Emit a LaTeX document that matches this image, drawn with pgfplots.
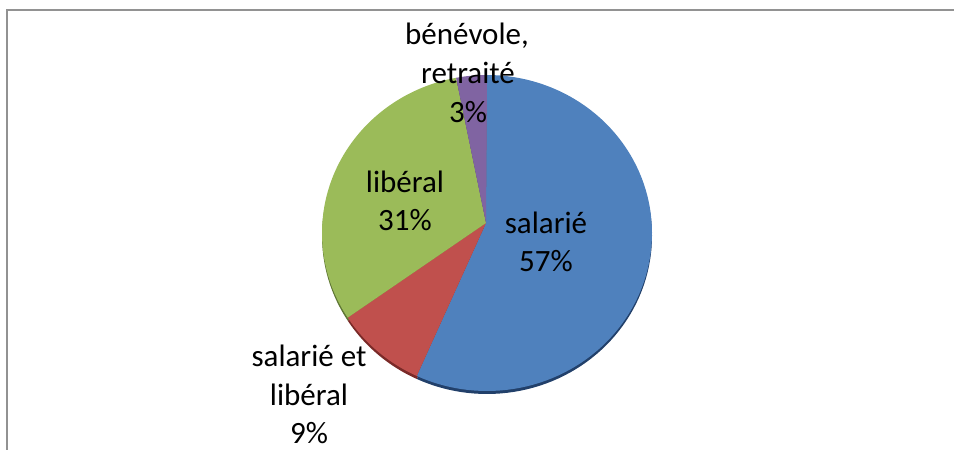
\documentclass[border=0pt]{standalone}
\usepackage{pgfplots}
\pgfplotsset{compat=1.18}
\usepackage{fontspec}
\setmainfont{Carlito}
\definecolor{pieblue}{HTML}{4F81BD}
\definecolor{piered}{HTML}{C0504D}
\definecolor{piegreen}{HTML}{9BBB59}
\definecolor{piepurple}{HTML}{8064A2}
\definecolor{rimblue}{HTML}{22406A}
\definecolor{rimred}{HTML}{7A2A28}
\definecolor{rimgreen}{HTML}{5E7634}
\definecolor{rimpurple}{HTML}{4E3A66}
\definecolor{framegray}{HTML}{929292}
\begin{document}
\begin{tikzpicture}
\begin{axis}[
  scale only axis, width=954bp, height=450bp,
  xmin=0, xmax=954, ymin=0, ymax=450,
  hide axis, clip=false,
]
% frame (left and top edges visible)
\addplot[draw=framegray, line width=2bp] coordinates {(7,0) (7,440) (954,440)};
% rim / shadow (drawn first, shifted down)
\def\cum{0}
\pgfplotsforeachungrouped \p/\c in {57/rimblue, 9/rimred, 31/rimgreen, 3/rimpurple} {
  \pgfmathsetmacro\a{90-3.6*\cum}
  \pgfmathsetmacro\b{90-3.6*(\cum+\p)}
  \edef\temp{\noexpand\addplot[fill=\c, draw=none, domain=\a:\b, samples=90] ({487+165*cos(x)},{214+158*sin(x)}) -- (486,224) -- cycle;}
  \temp
  \pgfmathsetmacro\cum{\cum+\p}
}
% top face
\def\cum{0}
\pgfplotsforeachungrouped \p/\c in {57/pieblue, 9/piered, 31/piegreen, 3/piepurple} {
  \pgfmathsetmacro\a{90-3.6*\cum}
  \pgfmathsetmacro\b{90-3.6*(\cum+\p)}
  \edef\temp{\noexpand\addplot[fill=\c, draw=none, domain=\a:\b, samples=90] ({487+165*cos(x)},{217+158*sin(x)}) -- (486,227) -- cycle;}
  \temp
  \pgfmathsetmacro\cum{\cum+\p}
}
% labels
\begin{scope}[every node/.style={anchor=base, inner sep=0pt, font=\fontsize{31bp}{38bp}\selectfont}]
\node at (axis cs:467,405) {bénévole,};
\node at (axis cs:468,367) {retraité};
\node at (axis cs:468,328) {3\%};
\node at (axis cs:405,258) {libéral};
\node at (axis cs:405,220) {31\%};
\node at (axis cs:546,217) {salarié};
\node at (axis cs:546,179) {57\%};
\node at (axis cs:309,84) {salarié et};
\node at (axis cs:309,45) {libéral};
\node at (axis cs:309,7) {9\%};
\end{scope}
\end{axis}
\pgfresetboundingbox
\path[use as bounding box] (0,0) rectangle (954bp,450bp);
\end{tikzpicture}
\end{document}
